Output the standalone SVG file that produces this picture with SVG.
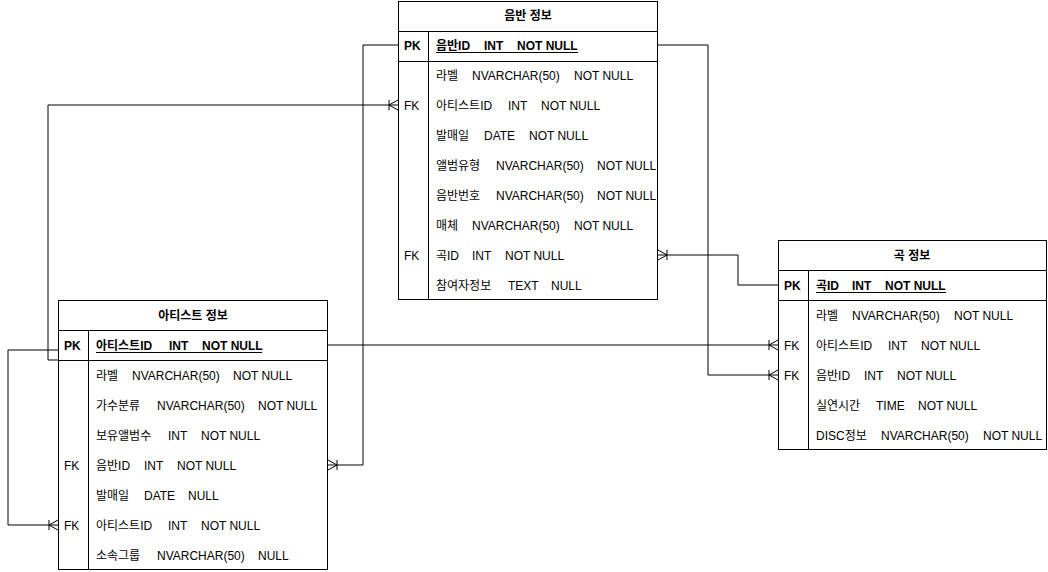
<svg xmlns="http://www.w3.org/2000/svg" width="1048" height="572" viewBox="0 0 1048 572">
<style>
text{font-family:"Liberation Sans","Noto Sans CJK KR",Arial,sans-serif;font-size:12px;fill:#000}
.h{font-weight:bold;text-anchor:middle}
.k{font-weight:bold}
.box{fill:#fff;stroke:#000;stroke-width:1}
.ln{fill:none;stroke:#000;stroke-width:1}
</style>
<defs>
<path id="cf" d="M0,-5V5M0,0L9,-5M0,0L9,5" class="ln"/>
</defs>
<rect width="1048" height="572" fill="#fff"/>
<g id="connectors" class="ln">
<polyline points="398,45 363,45 363,465 328,465"/>
<polyline points="398,105 48,105 48,360 58,360"/>
<polyline points="58,350 8,350 8,525 58,525"/>
<polyline points="328,345 778,345"/>
<polyline points="658,45 708,45 708,375 778,375"/>
<polyline points="778,285 738,285 738,255 658,255"/>
<use href="#cf" transform="translate(389,105)"/>
<use href="#cf" transform="translate(49,525)"/>
<use href="#cf" transform="translate(769,345)"/>
<use href="#cf" transform="translate(769,375)"/>
<use href="#cf" transform="translate(337,465) scale(-1,1)"/>
<use href="#cf" transform="translate(667,255) scale(-1,1)"/>
</g>
<g id="album">
<rect class="box" x="398.5" y="1.5" width="259" height="298"/>
<path class="ln" d="M398.5,31.5H657.5M398.5,61.5H657.5M428.5,31.5V299.5"/>
<text class="h" x="528" y="20">음반 정보</text>
<text class="k" x="404" y="50">PK</text>
<text class="k" x="436" y="50">음반ID<tspan x="484">INT</tspan><tspan x="517">NOT NULL</tspan></text>
<line class="ln" x1="436" y1="52.5" x2="578" y2="52.5"/>
<text x="436" y="80">라벨<tspan x="472">NVARCHAR(50)</tspan><tspan x="574">NOT NULL</tspan></text>
<text x="404" y="110">FK</text>
<text x="436" y="110">아티스트ID<tspan x="508">INT</tspan><tspan x="541">NOT NULL</tspan></text>
<text x="436" y="140">발매일<tspan x="484">DATE</tspan><tspan x="529">NOT NULL</tspan></text>
<text x="436" y="170">앨범유형<tspan x="496">NVARCHAR(50)</tspan><tspan x="597">NOT NULL</tspan></text>
<text x="436" y="200">음반번호<tspan x="496">NVARCHAR(50)</tspan><tspan x="597">NOT NULL</tspan></text>
<text x="436" y="230">매체<tspan x="472">NVARCHAR(50)</tspan><tspan x="574">NOT NULL</tspan></text>
<text x="404" y="260">FK</text>
<text x="436" y="260">곡ID<tspan x="472">INT</tspan><tspan x="505">NOT NULL</tspan></text>
<text x="436" y="290">참여자정보<tspan x="508">TEXT</tspan><tspan x="551">NULL</tspan></text>
</g>
<g id="artist">
<rect class="box" x="58.5" y="300.5" width="269" height="269"/>
<path class="ln" d="M58.5,330.5H327.5M58.5,360.5H327.5M88.5,330.5V569.5"/>
<text class="h" x="193" y="320">아티스트 정보</text>
<text class="k" x="64" y="350">PK</text>
<text class="k" x="96" y="350">아티스트ID<tspan x="169">INT</tspan><tspan x="202">NOT NULL</tspan></text>
<line class="ln" x1="96" y1="352.5" x2="262" y2="352.5"/>
<text x="96" y="380">라벨<tspan x="132">NVARCHAR(50)</tspan><tspan x="233">NOT NULL</tspan></text>
<text x="96" y="410">가수분류<tspan x="157">NVARCHAR(50)</tspan><tspan x="258">NOT NULL</tspan></text>
<text x="96" y="440">보유앨범수<tspan x="168">INT</tspan><tspan x="201">NOT NULL</tspan></text>
<text x="64" y="470">FK</text>
<text x="96" y="470">음반ID<tspan x="144">INT</tspan><tspan x="177">NOT NULL</tspan></text>
<text x="96" y="500">발매일<tspan x="144">DATE</tspan><tspan x="188">NULL</tspan></text>
<text x="64" y="530">FK</text>
<text x="96" y="530">아티스트ID<tspan x="168">INT</tspan><tspan x="201">NOT NULL</tspan></text>
<text x="96" y="560">소속그룹<tspan x="157">NVARCHAR(50)</tspan><tspan x="258">NULL</tspan></text>
</g>
<g id="song">
<rect class="box" x="778.5" y="240.5" width="268" height="209"/>
<path class="ln" d="M778.5,270.5H1046.5M778.5,300.5H1046.5M808.5,270.5V449.5"/>
<text class="h" x="912" y="260">곡 정보</text>
<text class="k" x="784" y="290">PK</text>
<text class="k" x="816" y="290">곡ID<tspan x="852">INT</tspan><tspan x="885">NOT NULL</tspan></text>
<line class="ln" x1="816" y1="292.5" x2="946" y2="292.5"/>
<text x="816" y="320">라벨<tspan x="852">NVARCHAR(50)</tspan><tspan x="954">NOT NULL</tspan></text>
<text x="784" y="350">FK</text>
<text x="816" y="350">아티스트ID<tspan x="888">INT</tspan><tspan x="921">NOT NULL</tspan></text>
<text x="784" y="380">FK</text>
<text x="816" y="380">음반ID<tspan x="864">INT</tspan><tspan x="897">NOT NULL</tspan></text>
<text x="816" y="410">실연시간<tspan x="876">TIME</tspan><tspan x="918">NOT NULL</tspan></text>
<text x="816" y="440">DISC정보<tspan x="881">NVARCHAR(50)</tspan><tspan x="983">NOT NULL</tspan></text>
</g>
</svg>
